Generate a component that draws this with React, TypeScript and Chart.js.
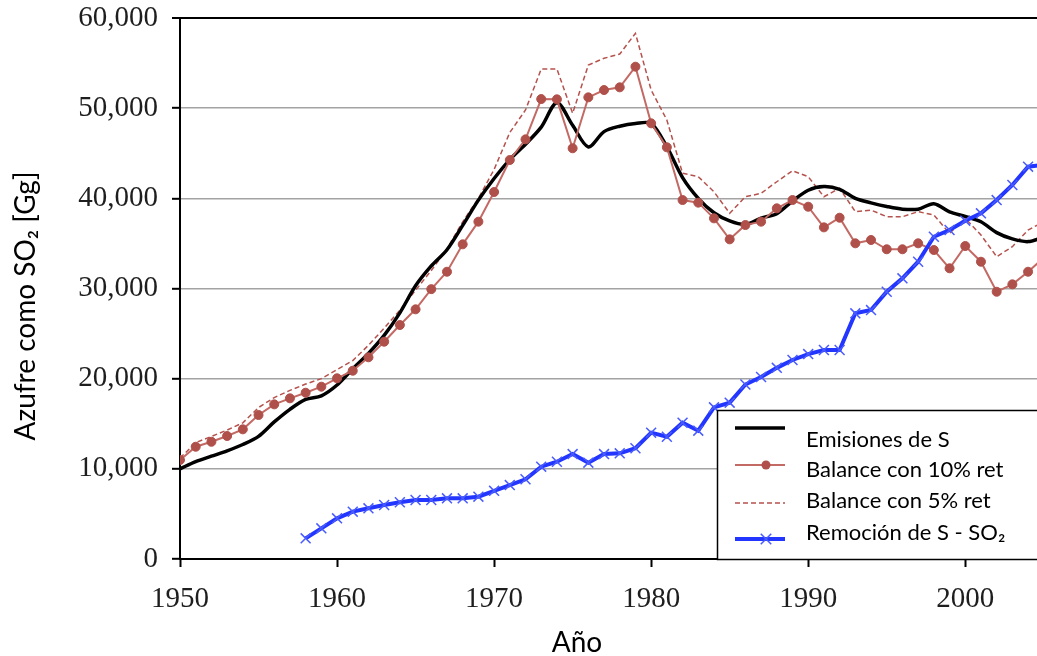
import React, { useEffect, useRef } from 'react';
import { Chart, registerables } from 'chart.js';

Chart.register(...registerables);

const years = [
  1950, 1951, 1952, 1953, 1954, 1955, 1956, 1957, 1958, 1959,
  1960, 1961, 1962, 1963, 1964, 1965, 1966, 1967, 1968, 1969,
  1970, 1971, 1972, 1973, 1974, 1975, 1976, 1977, 1978, 1979,
  1980, 1981, 1982, 1983, 1984, 1985, 1986, 1987, 1988, 1989,
  1990, 1991, 1992, 1993, 1994, 1995, 1996, 1997, 1998, 1999,
  2000, 2001, 2002, 2003, 2004, 2005,
];

const emisiones = [
  10000, 10800, 11400, 12000, 12700, 13600, 15200, 16600, 17700, 18100,
  19300, 21100, 22800, 24800, 27300, 30300, 32500, 34300, 37000, 39800,
  42200, 44300, 46000, 47900, 50600, 48100, 45700, 47400, 48000, 48300,
  48300, 45700, 42300, 40000, 38400, 37500, 37100, 37800, 38300, 39700,
  40900, 41300, 41000, 40000, 39500, 39100, 38800, 38800, 39400, 38500,
  38000, 37400, 36200, 35500, 35200, 35700,
];

const balance10 = [
  10980, 12450, 13000, 13640, 14380, 15970, 17150, 17820, 18440, 19110,
  20040, 20880, 22370, 24100, 25950, 27690, 29930, 31860, 34900, 37410,
  40700, 44250, 46540, 51010, 50980, 45550, 51200, 52010, 52310, 54600,
  48320, 45660, 39810, 39520, 37780, 35450, 37040, 37410, 38890, 39810,
  39070, 36780, 37850, 35010, 35380, 34350, 34350, 35010, 34270, 32240,
  34710, 32970, 29640, 30460, 31860, 33400,
];

const balance5 = [
  11200, 12900, 13600, 14300, 15100, 16800, 17900, 18700, 19400, 20000,
  21000, 22000, 23700, 25600, 27600, 29800, 32000, 34400, 37400, 40000,
  43200, 47300, 49800, 54340, 54340, 49430, 54780, 55530, 56000, 58300,
  52010, 48690, 42780, 42400, 40730, 38340, 40180, 40550, 41840, 43060,
  42400, 40180, 41110, 38520, 38700, 37960, 37960, 38520, 38150, 36120,
  37780, 35930, 33530, 34640, 36490, 37400,
];

const remocion = [
  null, null, null, null, null, null, null, null, 2290, 3400,
  4510, 5250, 5620, 5990, 6290, 6540, 6540, 6730, 6730, 6910,
  7560, 8200, 8840, 10240, 10790, 11640, 10680, 11640, 11720, 12280,
  14010, 13560, 15120, 14230, 16820, 17340, 19350, 20180, 21200, 22070,
  22730, 23180, 23180, 27250, 27610, 29640, 31130, 32970, 35740, 36490,
  37520, 38340, 39810, 41480, 43510, 43700,
];

const xTickValues = [1950, 1960, 1970, 1980, 1990, 2000];
const yTickValues = [0, 10000, 20000, 30000, 40000, 50000, 60000];

const seriesLabels = [
  'Emisiones de S',
  'Balance con 10% ret',
  'Balance con 5% ret',
  'Remoción de S - SO₂',
];
const yTitle = 'Azufre como SO₂ [Gg]';
const xTitle = 'Año';

const SANS = 'Lato, "Open Sans", "Noto Sans", sans-serif';
const SERIF = '"Liberation Serif", "Times New Roman", serif';

const CANVAS_W = 1046;
const CANVAS_H = 656;

const toXY = (vals: (number | null)[]) =>
  years.map((yr, i) => ({ x: yr, y: vals[i] }));

const legendPlugin = {
  id: 'boxLegend',
  afterDatasetsDraw(chart: any) {
    const { ctx } = chart;
    const area = chart.chartArea;
    ctx.save();
    const bx = 717;
    const by = 410;
    ctx.fillStyle = '#ffffff';
    ctx.fillRect(bx, by, chart.width - bx + 10, area.bottom - by);
    ctx.strokeStyle = '#000000';
    ctx.lineWidth = 1.5;
    ctx.strokeRect(bx + 0.5, by + 0.5, chart.width - bx + 10, area.bottom - by);

    const sx0 = 735;
    const sx1 = 785;
    const sampleY = [428, 465, 503, 539];
    const textY = [440, 470, 501, 533];
    chart.data.datasets.forEach((ds: any, i: number) => {
      const y = sampleY[i];
      ctx.save();
      ctx.strokeStyle = ds.borderColor;
      ctx.lineWidth = ds.borderWidth;
      ctx.setLineDash(ds.borderDash || []);
      ctx.beginPath();
      ctx.moveTo(sx0, y);
      ctx.lineTo(sx1, y);
      ctx.stroke();
      ctx.setLineDash([]);
      const mx = 766;
      if (ds.pointStyle === 'circle' && ds.pointRadius > 0) {
        ctx.fillStyle = ds.pointBackgroundColor;
        ctx.beginPath();
        ctx.arc(mx, y, ds.pointRadius, 0, Math.PI * 2);
        ctx.fill();
      } else if (ds.pointStyle === 'crossRot') {
        ctx.strokeStyle = ds.pointBorderColor;
        ctx.lineWidth = ds.pointBorderWidth;
        const r = ds.pointRadius * 0.75;
        ctx.beginPath();
        ctx.moveTo(mx - r, y - r);
        ctx.lineTo(mx + r, y + r);
        ctx.moveTo(mx + r, y - r);
        ctx.lineTo(mx - r, y + r);
        ctx.stroke();
      }
      ctx.restore();
      ctx.fillStyle = '#000000';
      ctx.font = `22px ${SANS}`;
      ctx.textBaseline = 'middle';
      ctx.textAlign = 'left';
      ctx.fillText(ds.label, 806, textY[i]);
    });
    ctx.restore();
  },
};

const titlePlugin = {
  id: 'axisTitles',
  afterDraw(chart: any) {
    const { ctx } = chart;
    ctx.save();
    ctx.fillStyle = '#000000';
    ctx.font = `28px ${SANS}`;
    ctx.textAlign = 'center';
    ctx.textBaseline = 'alphabetic';
    ctx.translate(35, 306);
    ctx.rotate(-Math.PI / 2);
    ctx.fillText(yTitle, 0, 0);
    ctx.restore();

    ctx.save();
    ctx.fillStyle = '#000000';
    ctx.font = `28px ${SANS}`;
    ctx.textAlign = 'center';
    ctx.textBaseline = 'alphabetic';
    ctx.fillText(xTitle, 577, 652);
    ctx.restore();
  },
};

export default function App() {
  const canvasRef = useRef<HTMLCanvasElement | null>(null);

  useEffect(() => {
    const canvas = canvasRef.current;
    if (!canvas) return;
    const chart = new Chart(canvas, {
      type: 'line',
      data: {
        datasets: [
          {
            label: seriesLabels[0],
            data: toXY(emisiones),
            borderColor: '#000000',
            backgroundColor: '#000000',
            borderWidth: 3.5,
            pointRadius: 0,
            pointStyle: 'line',
            tension: 0.3,
            order: 2,
          },
          {
            label: seriesLabels[1],
            data: toXY(balance10),
            borderColor: '#c46a65',
            backgroundColor: '#b0504a',
            borderWidth: 2,
            pointStyle: 'circle',
            pointRadius: 4.5,
            pointBackgroundColor: '#b0504a',
            pointBorderColor: '#b0504a',
            pointBorderWidth: 1,
            tension: 0,
            order: 1,
          },
          {
            label: seriesLabels[2],
            data: toXY(balance5),
            borderColor: '#b5524d',
            backgroundColor: '#b5524d',
            borderWidth: 1.5,
            borderDash: [5, 3],
            pointRadius: 0,
            pointStyle: 'line',
            tension: 0,
            order: 3,
          },
          {
            label: seriesLabels[3],
            data: toXY(remocion),
            borderColor: '#2236ff',
            backgroundColor: '#2236ff',
            borderWidth: 4,
            pointStyle: 'crossRot',
            pointRadius: 7,
            pointBorderColor: '#4a5cff',
            pointBorderWidth: 1.5,
            tension: 0,
            spanGaps: false,
            order: 0,
          },
        ],
      },
      options: {
        animation: false,
        responsive: false,
        maintainAspectRatio: false,
        layout: { padding: { left: 0, top: 18, right: 0, bottom: 0 } },
        plugins: {
          legend: { display: false },
          tooltip: { enabled: false },
          title: { display: false },
        },
        scales: {
          x: {
            type: 'linear',
            min: 1950,
            max: 2004.6,
            afterBuildTicks: (scale: any) => {
              scale.ticks = xTickValues.map((v) => ({ value: v }));
            },
            afterFit: (scale: any) => {
              scale.height = 97;
              scale.paddingLeft = 0;
              scale.paddingRight = 0;
            },
            ticks: {
              font: { family: SERIF, size: 29 },
              color: '#1e1e1e',
              padding: 15,
              maxRotation: 0,
              autoSkip: false,
              callback: (v: any) => String(v),
            },
            grid: {
              drawOnChartArea: false,
              drawTicks: true,
              tickLength: 8,
              tickColor: '#000000',
              tickWidth: 2,
            },
            border: { display: true, color: '#000000', width: 2 },
          },
          y: {
            type: 'linear',
            min: 0,
            max: 60000,
            afterBuildTicks: (scale: any) => {
              scale.ticks = yTickValues.map((v) => ({ value: v }));
            },
            afterFit: (scale: any) => {
              scale.width = 180;
              scale.paddingTop = 0;
              scale.paddingBottom = 0;
            },
            ticks: {
              font: { family: SERIF, size: 29 },
              color: '#1e1e1e',
              padding: 14,
              callback: (v: any) => Number(v).toLocaleString('en-US'),
            },
            grid: {
              color: (c: any) => (c.tick && c.tick.value === 60000 ? '#000000' : '#a3a3a3'),
              lineWidth: (c: any) => (c.tick && c.tick.value === 60000 ? 2 : 1.6),
              tickLength: 8,
              tickColor: '#000000',
              tickWidth: 2,
            },
            border: { display: true, color: '#000000', width: 2 },
          },
        },
      },
      plugins: [legendPlugin, titlePlugin],
    } as any);
    return () => chart.destroy();
  }, []);

  return (
    <div
      style={{
        position: 'fixed',
        left: 0,
        top: 0,
        width: 1037,
        height: 656,
        overflow: 'hidden',
        background: '#ffffff',
      }}
    >
      <canvas
        ref={canvasRef}
        width={CANVAS_W}
        height={CANVAS_H}
        style={{ width: CANVAS_W, height: CANVAS_H, display: 'block' }}
      />
    </div>
  );
}
